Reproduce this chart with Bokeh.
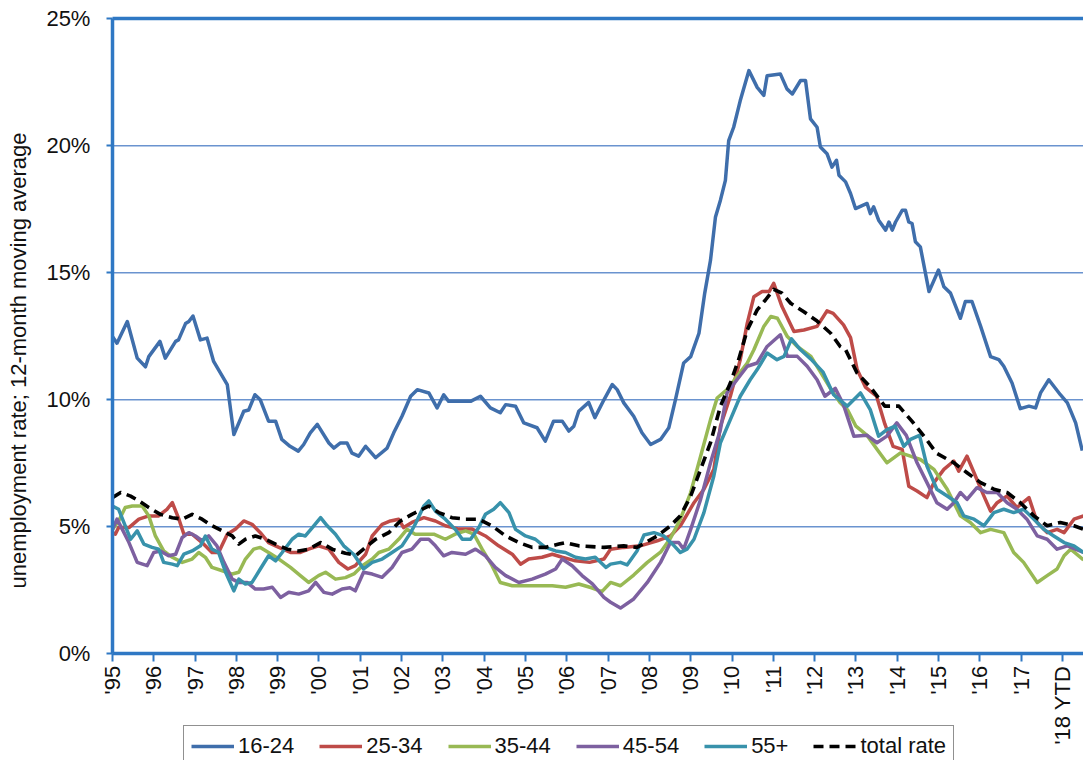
from bokeh.plotting import figure
from bokeh.models import (LinearAxis, FixedTicker, Legend, LegendItem, Range1d)
from bokeh.embed import file_html
from bokeh.resources import INLINE
from math import pi

# ---------------- data (12-month moving averages, %) ----------------
T_16_24 = [1995.0, 1995.11, 1995.36, 1995.6, 1995.8, 1995.88, 1996.15, 1996.28, 1996.53, 1996.6, 1996.77, 1996.85,
           1996.95, 1997.13, 1997.29, 1997.45, 1997.78, 1997.94, 1998.18, 1998.3, 1998.45, 1998.58, 1998.78, 1998.95,
           1999.1, 1999.3, 1999.5, 1999.63, 1999.79, 1999.96, 2000.24, 2000.36, 2000.52, 2000.68, 2000.8, 2000.96,
           2001.13, 2001.37, 2001.65, 2001.81, 2002.01, 2002.22, 2002.38, 2002.66, 2002.86, 2003.02, 2003.14, 2003.67,
           2003.91, 2004.15, 2004.39, 2004.52, 2004.76, 2004.96, 2005.28, 2005.48, 2005.68, 2005.89, 2006.05, 2006.17,
           2006.29, 2006.53, 2006.68, 2006.9, 2007.1, 2007.22, 2007.38, 2007.62, 2007.82, 2008.03, 2008.27, 2008.47,
           2008.63, 2008.83, 2009.0, 2009.2, 2009.34, 2009.48, 2009.6, 2009.72, 2009.84, 2009.92, 2010.04, 2010.2,
           2010.41, 2010.61, 2010.77, 2010.85, 2011.17, 2011.33, 2011.46, 2011.66, 2011.78, 2011.9, 2012.06, 2012.14,
           2012.3, 2012.42, 2012.53, 2012.59, 2012.75, 2012.87, 2012.99, 2013.27, 2013.35, 2013.43, 2013.55, 2013.72,
           2013.8, 2013.88, 2013.96, 2014.12, 2014.2, 2014.28, 2014.36, 2014.44, 2014.56, 2014.77, 2015.0, 2015.13,
           2015.29, 2015.53, 2015.65, 2015.81, 2016.02, 2016.26, 2016.46, 2016.58, 2016.78, 2016.98, 2017.19, 2017.35,
           2017.47, 2017.67, 2017.95, 2018.12, 2018.32, 2018.48]
V_16_24 = [12.49, 12.23, 13.08, 11.64, 11.3, 11.7, 12.3, 11.64, 12.3, 12.36, 13.0, 13.08,
           13.3, 12.36, 12.43, 11.51, 10.6, 8.63, 9.55, 9.6, 10.2, 10.0, 9.16, 9.16,
           8.44, 8.17, 7.98, 8.24, 8.7, 9.03, 8.3, 8.1, 8.3, 8.3, 7.9, 7.78,
           8.17, 7.72, 8.1, 8.7, 9.35, 10.14, 10.4, 10.27, 9.68, 10.2, 9.94, 9.94,
           10.14, 9.68, 9.49, 9.81, 9.75, 9.09, 8.9, 8.37, 9.16, 9.16, 8.77, 8.96,
           9.55, 9.9, 9.3, 10.0, 10.6, 10.4, 9.88, 9.35, 8.7, 8.24, 8.44, 8.9,
           10.0, 11.45, 11.7, 12.62, 14.2, 15.5, 17.2, 17.86, 18.64, 20.2, 20.73, 21.78,
           22.96, 22.3, 21.98, 22.76, 22.83, 22.24, 22.04, 22.57, 22.57, 21.06, 20.73, 19.95,
           19.69, 19.16, 19.43, 18.84, 18.58, 18.12, 17.53, 17.73, 17.33, 17.6, 17.07, 16.68,
           17.0, 16.68, 17.0, 17.46, 17.46, 17.0, 16.94, 16.22, 16.02, 14.26, 15.11, 14.45,
           14.2, 13.21, 13.87, 13.87, 12.89, 11.7, 11.58, 11.32, 10.66, 9.65, 9.75, 9.68,
           10.27, 10.79, 10.2, 9.88, 9.09, 8.0]

T_25_34 = [1995.0, 1995.07, 1995.15, 1995.4, 1995.64, 1995.88, 1996.12, 1996.32, 1996.45, 1996.61, 1996.73, 1996.93,
           1997.17, 1997.41, 1997.57, 1997.78, 1997.98, 1998.18, 1998.38, 1998.58, 1998.78, 1999.03, 1999.31, 1999.55,
           1999.75, 1999.99, 2000.24, 2000.48, 2000.7, 2000.88, 2001.13, 2001.29, 2001.53, 2001.73, 2001.93, 2002.05,
           2002.25, 2002.54, 2002.82, 2003.06, 2003.39, 2003.71, 2004.03, 2004.35, 2004.68, 2004.88, 2005.08, 2005.4,
           2005.65, 2005.89, 2006.21, 2006.55, 2006.9, 2007.06, 2007.38, 2007.78, 2008.19, 2008.51, 2008.75, 2009.08,
           2009.32, 2009.56, 2009.72, 2009.96, 2010.2, 2010.37, 2010.53, 2010.73, 2010.9, 2011.01, 2011.21, 2011.5,
           2011.74, 2012.06, 2012.3, 2012.45, 2012.7, 2012.87, 2013.03, 2013.23, 2013.5, 2013.7, 2013.9, 2014.12,
           2014.28, 2014.48, 2014.72, 2014.89, 2015.13, 2015.37, 2015.49, 2015.69, 2015.86, 2016.1, 2016.26, 2016.42,
           2016.66, 2016.9, 2017.19, 2017.39, 2017.63, 2017.87, 2018.04, 2018.28, 2018.51]
V_25_34 = [4.77, 4.71, 4.97, 4.97, 5.3, 5.43, 5.43, 5.69, 5.95, 5.3, 4.71, 4.71,
           4.38, 3.99, 3.99, 4.71, 4.91, 5.23, 5.1, 4.77, 4.38, 4.19, 3.99, 3.99,
           4.12, 4.25, 4.12, 3.6, 3.34, 3.47, 3.92, 4.64, 5.1, 5.23, 5.3, 4.97,
           5.17, 5.36, 5.23, 5.04, 4.91, 4.91, 4.64, 4.25, 3.92, 3.53, 3.73, 3.8,
           3.92, 3.8, 3.66, 3.6, 3.73, 4.12, 4.19, 4.25, 4.45, 4.64, 5.04, 5.95,
           6.48, 7.26, 8.96, 10.14, 11.58, 13.02, 14.06, 14.26, 14.26, 14.59, 13.67, 12.69,
           12.75, 12.89, 13.5, 13.4, 12.95, 12.45, 11.19, 10.5, 10.14, 9.05, 8.17, 8.05,
           6.6, 6.41, 6.15, 6.74, 7.26, 7.59, 7.19, 7.78, 7.13, 6.21, 5.62, 5.95,
           6.21, 5.76, 6.15, 5.17, 4.77, 4.9, 4.77, 5.3, 5.43]

T_35_44 = [1995.0, 1995.15, 1995.31, 1995.48, 1995.72, 1995.88, 1996.04, 1996.24, 1996.45, 1996.69, 1996.93, 1997.09,
           1997.25, 1997.41, 1997.66, 1997.9, 1998.06, 1998.22, 1998.42, 1998.58, 1998.78, 1999.03, 1999.31, 1999.55,
           1999.75, 1999.99, 2000.16, 2000.4, 2000.64, 2000.86, 2001.05, 2001.29, 2001.45, 2001.69, 2001.93, 2002.13,
           2002.33, 2002.58, 2002.78, 2003.06, 2003.3, 2003.55, 2003.75, 2003.95, 2004.19, 2004.39, 2004.68, 2005.0,
           2005.32, 2005.65, 2005.97, 2006.29, 2006.6, 2006.85, 2007.06, 2007.3, 2007.62, 2007.95, 2008.27, 2008.51,
           2008.75, 2009.0, 2009.24, 2009.48, 2009.64, 2009.88, 2010.12, 2010.37, 2010.53, 2010.77, 2010.94, 2011.1,
           2011.34, 2011.58, 2011.91, 2012.14, 2012.4, 2012.62, 2012.8, 2013.0, 2013.27, 2013.51, 2013.75, 2014.08,
           2014.32, 2014.56, 2014.89, 2015.21, 2015.53, 2015.77, 2016.02, 2016.26, 2016.58, 2016.82, 2017.06, 2017.39,
           2017.63, 2017.87, 2018.04, 2018.2, 2018.51]
V_35_44 = [4.9, 5.23, 5.76, 5.82, 5.82, 5.43, 4.64, 4.05, 3.8, 3.6, 3.73, 3.99,
           3.8, 3.4, 3.27, 3.14, 3.21, 3.73, 4.12, 4.19, 3.99, 3.73, 3.4, 3.08,
           2.81, 3.08, 3.21, 2.94, 3.0, 3.16, 3.47, 3.73, 3.99, 4.12, 4.51, 4.9,
           4.71, 4.71, 4.71, 4.51, 4.71, 4.84, 4.71, 4.12, 3.47, 2.81, 2.68, 2.68,
           2.68, 2.68, 2.62, 2.75, 2.6, 2.45, 2.81, 2.68, 3.1, 3.6, 4.0, 4.55,
           5.3, 6.35, 7.78, 9.22, 10.07, 10.4, 10.92, 11.45, 11.97, 12.89, 13.28, 13.21,
           12.49, 12.1, 11.71, 11.1, 10.4, 9.88, 9.6, 8.96, 8.6, 8.05, 7.52, 7.91,
           7.78, 7.65, 7.26, 6.48, 5.43, 5.17, 4.77, 4.9, 4.77, 3.99, 3.6, 2.81,
           3.08, 3.34, 3.86, 4.12, 3.7]

T_45_54 = [1995.0, 1995.11, 1995.24, 1995.4, 1995.6, 1995.84, 1996.0, 1996.16, 1996.36, 1996.53, 1996.69, 1996.85,
           1997.01, 1997.17, 1997.33, 1997.53, 1997.7, 1997.9, 1998.06, 1998.26, 1998.46, 1998.66, 1998.87, 1999.07,
           1999.27, 1999.51, 1999.75, 1999.92, 2000.12, 2000.32, 2000.56, 2000.75, 2000.88, 2001.08, 2001.29, 2001.53,
           2001.77, 2002.01, 2002.25, 2002.46, 2002.66, 2002.82, 2003.02, 2003.22, 2003.55, 2003.79, 2004.03, 2004.27,
           2004.52, 2004.84, 2005.16, 2005.48, 2005.73, 2005.89, 2006.13, 2006.37, 2006.62, 2006.9, 2007.06, 2007.3,
           2007.62, 2007.95, 2008.27, 2008.51, 2008.71, 2008.83, 2009.0, 2009.24, 2009.48, 2009.72, 2009.88, 2010.12,
           2010.37, 2010.61, 2010.85, 2011.17, 2011.34, 2011.58, 2011.82, 2012.06, 2012.25, 2012.5, 2012.7, 2012.95,
           2013.27, 2013.51, 2013.75, 2013.99, 2014.22, 2014.48, 2014.72, 2014.96, 2015.21, 2015.37, 2015.53, 2015.69,
           2015.93, 2016.17, 2016.42, 2016.66, 2016.9, 2017.14, 2017.39, 2017.63, 2017.87, 2018.12, 2018.51]
V_45_54 = [4.9, 5.3, 4.9, 4.38, 3.6, 3.47, 3.99, 4.05, 3.86, 3.92, 4.58, 4.77,
           4.64, 4.45, 4.64, 4.25, 3.6, 2.94, 2.81, 2.81, 2.55, 2.55, 2.62, 2.22,
           2.42, 2.35, 2.48, 2.81, 2.42, 2.35, 2.55, 2.6, 2.48, 3.21, 3.14, 3.01,
           3.4, 3.99, 4.12, 4.51, 4.51, 4.25, 3.86, 3.99, 3.92, 4.12, 3.86, 3.4,
           3.08, 2.81, 2.94, 3.14, 3.34, 3.73, 3.47, 3.08, 2.75, 2.22, 2.03, 1.8,
           2.16, 2.81, 3.6, 4.38, 4.38, 4.12, 4.9, 6.08, 7.52, 8.83, 10.27, 10.79,
           11.32, 11.45, 12.1, 12.56, 11.71, 11.71, 11.32, 10.79, 10.14, 10.45, 9.8, 8.57,
           8.6, 8.31, 8.57, 9.09, 8.6, 7.52, 6.74, 5.95, 5.69, 5.95, 6.35, 6.08,
           6.54, 6.35, 6.35, 5.95, 5.69, 5.3, 4.64, 4.51, 4.12, 4.25, 3.99]

T_55_UP = [1995.0, 1995.15, 1995.31, 1995.44, 1995.6, 1995.76, 1995.96, 1996.12, 1996.24, 1996.45, 1996.57, 1996.73,
           1996.93, 1997.13, 1997.25, 1997.41, 1997.57, 1997.74, 1997.94, 1998.06, 1998.22, 1998.38, 1998.58, 1998.78,
           1998.95, 1999.11, 1999.35, 1999.51, 1999.67, 1999.84, 2000.04, 2000.2, 2000.4, 2000.6, 2000.85, 2001.08,
           2001.29, 2001.53, 2001.77, 2002.01, 2002.22, 2002.33, 2002.54, 2002.66, 2002.82, 2003.06, 2003.3, 2003.47,
           2003.67, 2003.87, 2004.03, 2004.23, 2004.39, 2004.6, 2004.76, 2005.0, 2005.24, 2005.48, 2005.73, 2005.97,
           2006.21, 2006.45, 2006.69, 2006.95, 2007.06, 2007.3, 2007.46, 2007.7, 2007.87, 2008.11, 2008.35, 2008.6,
           2008.75, 2008.91, 2009.08, 2009.32, 2009.56, 2009.72, 2009.96, 2010.2, 2010.44, 2010.61, 2010.85, 2011.09,
           2011.26, 2011.44, 2011.66, 2011.91, 2012.2, 2012.46, 2012.79, 2013.11, 2013.35, 2013.55, 2013.75, 2013.95,
           2014.16, 2014.32, 2014.54, 2014.72, 2014.96, 2015.21, 2015.45, 2015.61, 2015.86, 2016.1, 2016.34, 2016.58,
           2016.82, 2017.06, 2017.31, 2017.55, 2017.79, 2018.04, 2018.28, 2018.51]
V_55_UP = [5.82, 5.69, 5.04, 4.51, 4.84, 4.32, 4.19, 4.12, 3.6, 3.53, 3.47, 3.92,
           4.05, 4.25, 4.64, 4.12, 3.99, 3.21, 2.48, 2.94, 2.75, 2.81, 3.34, 3.86,
           3.66, 3.99, 4.51, 4.71, 4.64, 4.97, 5.36, 5.04, 4.71, 4.25, 3.9, 3.34,
           3.6, 3.73, 3.99, 4.25, 4.77, 5.1, 5.82, 6.02, 5.62, 5.3, 4.9, 4.51,
           4.51, 4.97, 5.49, 5.69, 5.95, 5.56, 4.9, 4.64, 4.51, 4.19, 4.05, 3.99,
           3.8, 3.73, 3.8, 3.4, 3.53, 3.6, 3.5, 4.05, 4.68, 4.77, 4.64, 4.25,
           3.99, 4.12, 4.51, 5.56, 7.0, 8.31, 9.22, 10.14, 10.79, 11.19, 11.84, 11.58,
           11.71, 12.4, 11.97, 11.6, 11.1, 10.2, 9.75, 10.27, 9.6, 8.57, 8.83, 8.96,
           8.17, 8.44, 8.6, 7.39, 6.48, 6.21, 5.95, 5.43, 5.3, 5.04, 5.56, 5.69,
           5.56, 5.69, 5.3, 4.9, 4.64, 4.38, 4.25, 3.99]

T_TOTAL = [1995.0, 1995.2, 1995.44, 1995.64, 1995.88, 1996.16, 1996.45, 1996.69, 1996.93, 1997.17, 1997.41, 1997.66,
           1997.9, 1998.06, 1998.22, 1998.46, 1998.7, 1998.95, 1999.23, 1999.51, 1999.75, 2000.04, 2000.32, 2000.64,
           2000.9, 2001.13, 2001.37, 2001.69, 2001.97, 2002.25, 2002.66, 2002.9, 2003.22, 2003.55, 2003.87, 2004.19,
           2004.52, 2004.84, 2005.16, 2005.48, 2005.81, 2005.97, 2006.29, 2006.6, 2006.9, 2007.38, 2007.7, 2008.19,
           2008.51, 2008.75, 2009.0, 2009.24, 2009.48, 2009.72, 2009.96, 2010.16, 2010.37, 2010.61, 2010.81, 2011.01,
           2011.21, 2011.42, 2011.74, 2012.06, 2012.39, 2012.62, 2012.75, 2013.03, 2013.35, 2013.7, 2014.04, 2014.36,
           2014.68, 2014.95, 2015.37, 2015.69, 2016.02, 2016.34, 2016.66, 2016.98, 2017.31, 2017.63, 2017.95, 2018.28,
           2018.51]
V_TOTAL = [6.15, 6.35, 6.21, 6.02, 5.76, 5.49, 5.36, 5.3, 5.49, 5.3, 5.04, 4.84,
           4.64, 4.32, 4.51, 4.64, 4.51, 4.32, 4.12, 4.05, 4.12, 4.38, 4.12, 3.96,
           3.88, 4.19, 4.51, 4.77, 5.23, 5.49, 5.82, 5.56, 5.36, 5.3, 5.3, 5.04,
           4.64, 4.38, 4.19, 4.19, 4.32, 4.38, 4.25, 4.22, 4.19, 4.25, 4.19, 4.64,
           5.04, 5.43, 6.21, 7.26, 8.31, 9.75, 10.66, 11.58, 12.75, 13.54, 13.93, 14.35,
           14.2, 13.8, 13.47, 13.1, 12.62, 12.1, 11.97, 11.05, 10.5, 9.75, 9.75, 9.15,
           8.5, 7.9, 7.52, 7.13, 6.74, 6.48, 6.35, 5.95, 5.43, 5.04, 5.17, 5.04,
           4.9]

SERIES_NAMES = ["16-24", "25-34", "35-44", "45-54", "55+", "total rate"]
X_TICKS = list(range(1995, 2019))
X_LABELS = ["'%02d" % (y % 100) for y in range(1995, 2018)] + ["'18 YTD"]
Y_TICKS = [0, 5, 10, 15, 20, 25]
Y_LABELS = ["0%", "5%", "10%", "15%", "20%", "25%"]
GRID_AT = [5, 10, 15, 20]
Y_TITLE = "unemployment rate; 12-month moving average"

# ---------------- styling / layout ----------------
FONT = "Liberation Sans"
AXIS_BLUE = "#2F78C4"
GRID_BLUE = "#6A93CF"
COLORS = ["#3F6EAB", "#BE4B48", "#98B954", "#7D60A0", "#3892AB", "#000000"]
X_START, X_END = 1995, 2018.51          # extent of the plot area
VIEW_X = (1992.29, X_END)               # visible range incl. room for the y-axis texts
VIEW_Y = (-4.2, 25.72)                  # visible range incl. room for x labels and legend

# The frame covers the whole picture; axes are pinned with fixed_location so that the
# legend (an in-frame annotation) can sit below the x-axis labels.
p = figure(width=1083, height=760, output_backend="svg", toolbar_location=None,
           x_range=Range1d(*VIEW_X), y_range=Range1d(*VIEW_Y),
           min_border_left=0, min_border_top=0, min_border_bottom=0, min_border_right=0)
p.outline_line_color = None
p.background_fill_color = "white"
p.border_fill_color = "white"

# x axis at 0 %
p.xaxis.fixed_location = 0
p.xaxis.bounds = (X_START, X_END)
p.xaxis.ticker = FixedTicker(ticks=X_TICKS)
p.xaxis.major_label_overrides = {t: l for t, l in zip(X_TICKS, X_LABELS)}
p.xaxis.major_label_orientation = pi / 2
p.xaxis.major_tick_out = 8
p.xaxis.major_label_standoff = 4

# y axis at the start of the period
p.yaxis.fixed_location = X_START
p.yaxis.bounds = (0, 25)
p.yaxis.ticker = FixedTicker(ticks=Y_TICKS)
p.yaxis.major_label_overrides = {t: l for t, l in zip(Y_TICKS, Y_LABELS)}
p.yaxis.major_tick_out = 6
p.yaxis.major_label_standoff = 16

for ax in (p.xaxis, p.yaxis):
    ax.axis_line_color = AXIS_BLUE
    ax.axis_line_width = 3.5
    ax.major_tick_line_color = AXIS_BLUE
    ax.major_tick_line_width = 2
    ax.major_tick_in = 0
    ax.minor_tick_line_color = None
    ax.major_label_text_font = FONT
    ax.major_label_text_color = "#111111"
    ax.major_label_text_font_size = "22px"

# y-axis title carried by a line-less companion axis (positions the title as in the original)
title_axis = LinearAxis(fixed_location=X_START, bounds=(-1.9, 25), ticker=FixedTicker(ticks=[]),
                        axis_line_color=None, major_tick_out=0, minor_tick_out=0,
                        major_label_text_font_size="0px", major_label_standoff=0,
                        axis_label=Y_TITLE, axis_label_text_font=FONT, axis_label_text_font_size="22px",
                        axis_label_text_font_style="normal", axis_label_text_color="#111111",
                        axis_label_standoff=82)
p.add_layout(title_axis, "left")

# top border of the plot area at 25 %
top = LinearAxis(fixed_location=25, bounds=(X_START, X_END), ticker=FixedTicker(ticks=[]),
                 axis_line_color=AXIS_BLUE, axis_line_width=3.5, major_tick_out=0, minor_tick_out=0,
                 major_label_text_font_size="0px")
p.add_layout(top, "above")

# horizontal gridlines limited to the plot area
p.xgrid.grid_line_color = None
p.ygrid.grid_line_color = None
p.segment(x0=[X_START] * len(GRID_AT), x1=[X_END] * len(GRID_AT), y0=GRID_AT, y1=GRID_AT,
          line_color=GRID_BLUE, line_width=1.5)

# lines
data = [(T_16_24, V_16_24), (T_25_34, V_25_34), (T_35_44, V_35_44),
        (T_45_54, V_45_54), (T_55_UP, V_55_UP), (T_TOTAL, V_TOTAL)]
renderers = []
for i, (t, v) in enumerate(data):
    if SERIES_NAMES[i] == "total rate":
        r = p.line(t, v, line_color=COLORS[i], line_width=3.6, line_dash="10 6", line_join="round")
    else:
        r = p.line(t, v, line_color=COLORS[i], line_width=3.5, line_join="round")
    renderers.append(r)

legend = Legend(items=[LegendItem(label=n, renderers=[r]) for n, r in zip(SERIES_NAMES, renderers)],
                orientation="horizontal", location=(183, -7),
                label_text_font=FONT, label_text_font_size="22px", label_text_color="#111111",
                glyph_width=43, glyph_height=22, label_standoff=4, spacing=25, padding=7, margin=0,
                border_line_color="#222222", border_line_width=1.5,
                background_fill_color="white", background_fill_alpha=1.0)
p.add_layout(legend)

open("out.html", "w").write(file_html(p, INLINE))
